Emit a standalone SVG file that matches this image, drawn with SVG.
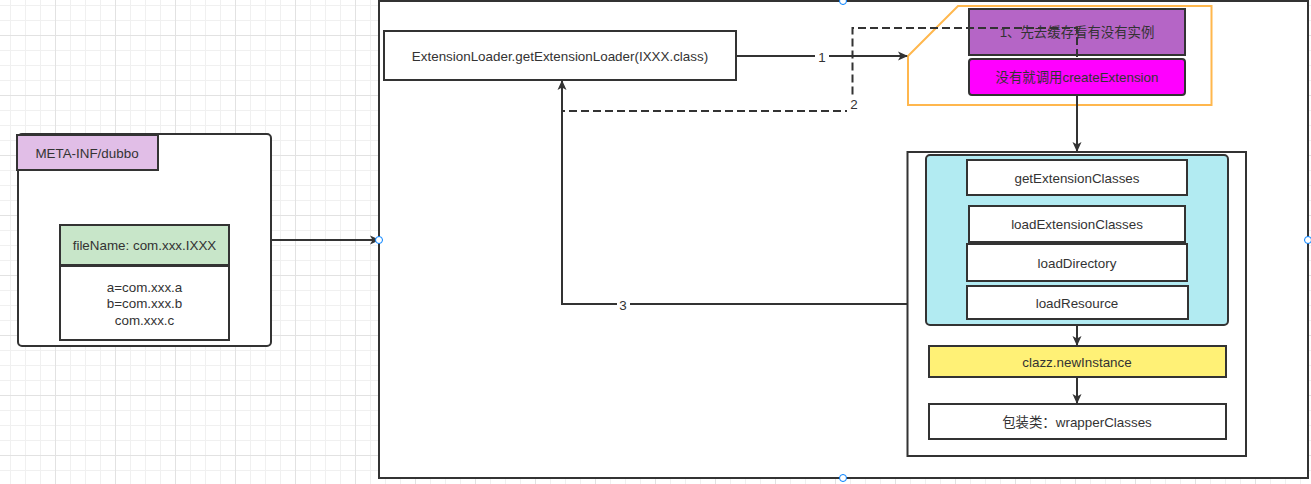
<svg xmlns="http://www.w3.org/2000/svg" width="1311" height="484" viewBox="0 0 1311 484">
<defs>
<pattern id="gminor" width="15" height="15" patternUnits="userSpaceOnUse" x="10" y="5">
<path d="M0.5 0V15M0 0.5H15" fill="none" stroke="#f0f0f0" stroke-width="1"/>
</pattern>
<pattern id="gmajor" width="60" height="60" patternUnits="userSpaceOnUse" x="55" y="35">
<path d="M0.5 0V60M0 0.5H60" fill="none" stroke="#e2e2e2" stroke-width="1"/>
</pattern>
<marker id="arr" viewBox="0 0 10 10" refX="9" refY="5" markerWidth="10" markerHeight="10" markerUnits="userSpaceOnUse" orient="auto">
<path d="M0 0.5L10 5L0 9.5L2.5 5Z" fill="#333"/>
</marker>
</defs>
<style>
.b{stroke:#333;stroke-width:2}
.t{font-family:"Liberation Sans","Noto Sans CJK SC",sans-serif;font-size:13.4px;fill:#333;text-anchor:middle;dominant-baseline:central}
.c{fill:none;stroke:#333;stroke-width:2}
.h{fill:#fff;stroke:#007fff;stroke-width:1}
.lbl{font-family:"Liberation Sans",sans-serif;font-size:13.4px;fill:#333;text-anchor:middle;dominant-baseline:central}
</style>
<rect width="1311" height="484" fill="#fff"/>
<rect width="1311" height="484" fill="url(#gminor)"/>
<rect width="1311" height="484" fill="url(#gmajor)"/>

<g id="container">
<rect x="379" y="1" width="929" height="477" fill="#fff" class="b"/>
</g>

<g id="meta-inf">
<rect x="18" y="134" width="253" height="212" rx="4" fill="#fff" class="b"/>
<rect x="17" y="135" width="141" height="35" fill="#e1bee7" class="b"/>
<text x="87" y="153" class="t">META-INF/dubbo</text>
</g>
<g id="file">
<rect x="60" y="225" width="169" height="40" fill="#c8e6c9" class="b"/>
<text x="144.5" y="245" class="t">fileName: com.xxx.IXXX</text>
<rect x="60" y="265" width="169" height="75" fill="#fff" class="b"/>
<line x1="60" y1="265.5" x2="229" y2="265.5" stroke="#333" stroke-width="3"/>
<text x="144.5" y="287" class="t">a=com.xxx.a</text>
<text x="144.5" y="303" class="t">b=com.xxx.b</text>
<text x="144.5" y="320" class="t">com.xxx.c</text>
</g>

<g id="loader">
<rect x="384" y="31" width="352" height="49" fill="#fff" class="b"/>
<text x="560" y="56" class="t">ExtensionLoader.getExtensionLoader(IXXX.class)</text>
</g>

<g id="cache-group">
<path d="M908 56L958 6H1211.5V105H908Z" fill="none" stroke="#ffb74d" stroke-width="2"/>
</g>
<g id="cache">
<rect x="969" y="9" width="216" height="46" fill="#b565c6" class="b"/>
<text x="1077" y="32" class="t">1、先去缓存看有没有实例</text>
</g>
<g id="create">
<rect x="969" y="59" width="216" height="36" rx="3" fill="#ff00ff" class="b"/>
<text x="1077" y="77" class="t">没有就调用createExtension</text>
</g>

<g id="process">
<rect x="907.5" y="152" width="338.5" height="304" fill="#fff" class="b"/>
</g>
<g id="cyan">
<rect x="926" y="155" width="302" height="170" rx="4" fill="#b2ebf2" class="b"/>
</g>
<g id="getExtensionClasses">
<rect x="967" y="160" width="220" height="35" fill="#fff" class="b"/>
<text x="1077" y="178" class="t">getExtensionClasses</text>
</g>
<g id="loadExtensionClasses">
<rect x="969" y="206" width="216" height="36" fill="#fff" class="b"/>
<text x="1077" y="224" class="t">loadExtensionClasses</text>
</g>
<g id="loadDirectory">
<rect x="967" y="244" width="220" height="37" fill="#fff" class="b"/>
<text x="1077" y="263" class="t">loadDirectory</text>
</g>
<g id="loadResource">
<rect x="967" y="286" width="221" height="33" fill="#fff" class="b"/>
<text x="1077" y="303" class="t">loadResource</text>
</g>
<g id="newInstance">
<rect x="929" y="346" width="297" height="31" fill="#fff176" class="b"/>
<text x="1077" y="362" class="t">clazz.newInstance</text>
</g>
<g id="wrapper">
<rect x="929" y="404" width="297" height="35" fill="#fff" class="b"/>
<text x="1077" y="422" class="t">包装类：wrapperClasses</text>
</g>

<g id="connectors">
<line x1="271" y1="240" x2="379" y2="240" class="c" marker-end="url(#arr)"/>
<line x1="736" y1="56" x2="907" y2="56" class="c" marker-end="url(#arr)"/>
<rect x="815" y="49" width="14" height="14" fill="#fff"/>
<text x="822" y="57" class="lbl">1</text>
<path d="M1077 57V28H852.5V111H562" fill="none" stroke="#333" stroke-width="2" stroke-dasharray="8 4"/>
<rect x="847" y="95" width="13" height="18" fill="#fff"/>
<text x="854" y="104" class="lbl">2</text>
<path d="M907 304H562V81" class="c" marker-end="url(#arr)"/>
<rect x="617" y="297" width="13" height="14" fill="#fff"/>
<text x="623" y="305" class="lbl">3</text>
<line x1="1077" y1="95" x2="1077" y2="151" class="c" marker-end="url(#arr)"/>
<line x1="1077" y1="325" x2="1077" y2="345" class="c" marker-end="url(#arr)"/>
<line x1="1077" y1="377" x2="1077" y2="403" class="c" marker-end="url(#arr)"/>
</g>

<g id="handles">
<circle cx="843" cy="1" r="3.5" class="h"/>
<circle cx="843" cy="478" r="3.5" class="h"/>
<circle cx="379" cy="240" r="3.5" class="h"/>
<circle cx="1308" cy="240" r="3.5" class="h"/>
</g>
</svg>
